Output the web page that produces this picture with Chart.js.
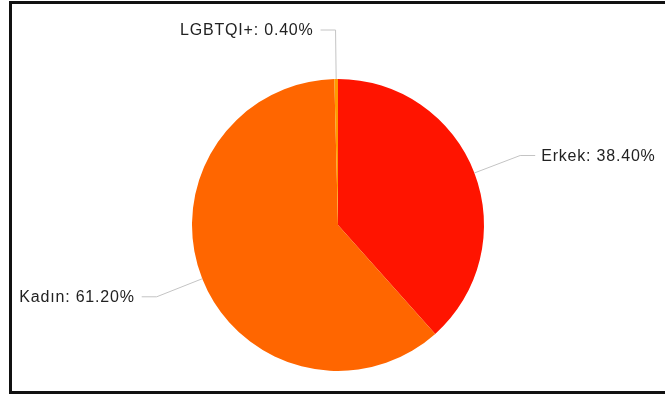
<!DOCTYPE html>
<html>
<head>
<meta charset="utf-8">
<script src="https://cdn.jsdelivr.net/npm/chart.js@4"></script>
<style>
  html, body { margin: 0; padding: 0; background: #fff; overflow: hidden; }
  #wrap { position: relative; width: 665px; height: 398px; }
  #ramka { position: absolute; left: 9px; top: 1px; width: 700px; height: 387px; border: 3px solid #111; box-sizing: content-box; }
  canvas { position: absolute; left: 0; top: 0; }
</style>
</head>
<body>
<div id="wrap">
  <div id="ramka"></div>
  <canvas id="pasta" width="665" height="398"></canvas>
</div>
<script>
// dane z wykresu
const etykiety = ["Erkek", "Kadın", "LGBTQI+"];
const wartosci = [38.4, 61.2, 0.4];
const kolory = ["#FF1400", "#FF6600", "#FF9A00"];

// podpisy z liniami
const podpisyPlugin = {
  id: "podpisy",
  afterDatasetsDraw(chart) {
    const ctx = chart.ctx;
    const meta = chart.getDatasetMeta(0);
    const suma = wartosci.reduce((a, b) => a + b, 0);
    ctx.save();
    ctx.font = "16px 'Liberation Sans', Arial, sans-serif";
    if ("letterSpacing" in ctx) ctx.letterSpacing = "0.8px";
    meta.data.forEach((arc, i) => {
      const p = arc.getProps(["x", "y", "startAngle", "endAngle", "outerRadius"], true);
      const mid = (p.startAngle + p.endAngle) / 2;
      const cos = Math.cos(mid), sin = Math.sin(mid);
      const x0 = p.x + cos * p.outerRadius, y0 = p.y + sin * p.outerRadius;
      const x1 = p.x + cos * (p.outerRadius + 49), y1 = p.y + sin * (p.outerRadius + 49);
      const lewo = cos < 0;
      const x2 = x1 + (lewo ? -15 : 15);
      ctx.strokeStyle = "#c4c4c4";
      ctx.lineWidth = 1;
      ctx.beginPath();
      ctx.moveTo(x0, y0);
      ctx.lineTo(x1, y1);
      ctx.lineTo(x2, y1);
      ctx.stroke();
      const txt = etykiety[i] + ": " + (wartosci[i] / suma * 100).toFixed(2) + "%";
      ctx.fillStyle = "#222";
      ctx.textBaseline = "middle";
      ctx.textAlign = lewo ? "right" : "left";
      ctx.fillText(txt, x2 + (lewo ? -7 : 6), y1 + 1);
    });
    ctx.restore();
  }
};

new Chart(document.getElementById("pasta"), {
  type: "pie",
  data: {
    labels: etykiety,
    datasets: [{
      data: wartosci,
      backgroundColor: kolory,
      borderWidth: 0,
      hoverOffset: 0
    }]
  },
  options: {
    responsive: false,
    animation: false,
    layout: { padding: { left: 101, right: 90, top: 79, bottom: 27 } },
    plugins: { legend: { display: false }, tooltip: { enabled: false } }
  },
  plugins: [podpisyPlugin]
});
</script>
</body>
</html>
